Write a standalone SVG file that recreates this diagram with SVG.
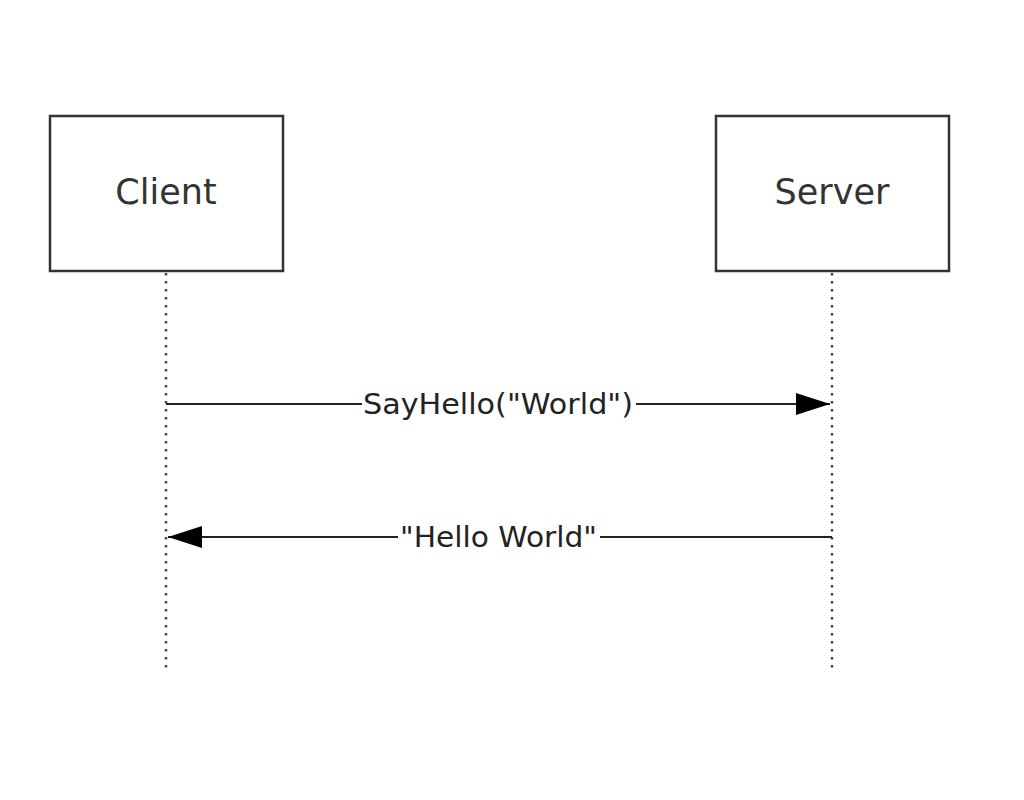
<svg xmlns="http://www.w3.org/2000/svg" width="1024" height="800" viewBox="0 0 1024 800">
<style>
.box{fill:#fff;stroke:#333;stroke-width:2.5}
.life{stroke:#444;stroke-width:2.5;stroke-dasharray:2.5 5.5}
.msg{stroke:#222;stroke-width:2;fill:none}
.name{font-family:"DejaVu Sans",sans-serif;font-size:35px;fill:#333;text-anchor:middle}
.lbl{font-family:"DejaVu Sans",sans-serif;font-size:28px;fill:#222;text-anchor:middle}
</style>
<defs>
<marker id="ah" viewBox="0 0 34 22" refX="34" refY="11" markerWidth="34" markerHeight="22" markerUnits="userSpaceOnUse" orient="auto">
<path d="M0,0 L34,11 L0,22 Z" fill="#000"/>
</marker>
</defs>
<rect width="1024" height="800" fill="#fff"/>
<g id="connectors">
<line class="life" x1="166" y1="273" x2="166" y2="668"/>
<line class="life" x1="832" y1="273" x2="832" y2="668"/>
<line class="msg" x1="166" y1="404" x2="362" y2="404"/>
<line class="msg" x1="636" y1="404" x2="830" y2="404" marker-end="url(#ah)"/>
<text class="lbl" x="498" y="414" textLength="270" lengthAdjust="spacingAndGlyphs">SayHello("World")</text>
<line class="msg" x1="832" y1="537" x2="600" y2="537"/>
<line class="msg" x1="398" y1="537" x2="168" y2="537" marker-end="url(#ah)"/>
<text class="lbl" x="498.5" y="547" textLength="197" lengthAdjust="spacingAndGlyphs">"Hello World"</text>
</g>
<g id="client">
<rect class="box" x="50" y="116" width="233" height="155"/>
<text class="name" x="166" y="204">Client</text>
</g>
<g id="server">
<rect class="box" x="716" y="116" width="233" height="155"/>
<text class="name" x="832" y="204">Server</text>
</g>
</svg>
